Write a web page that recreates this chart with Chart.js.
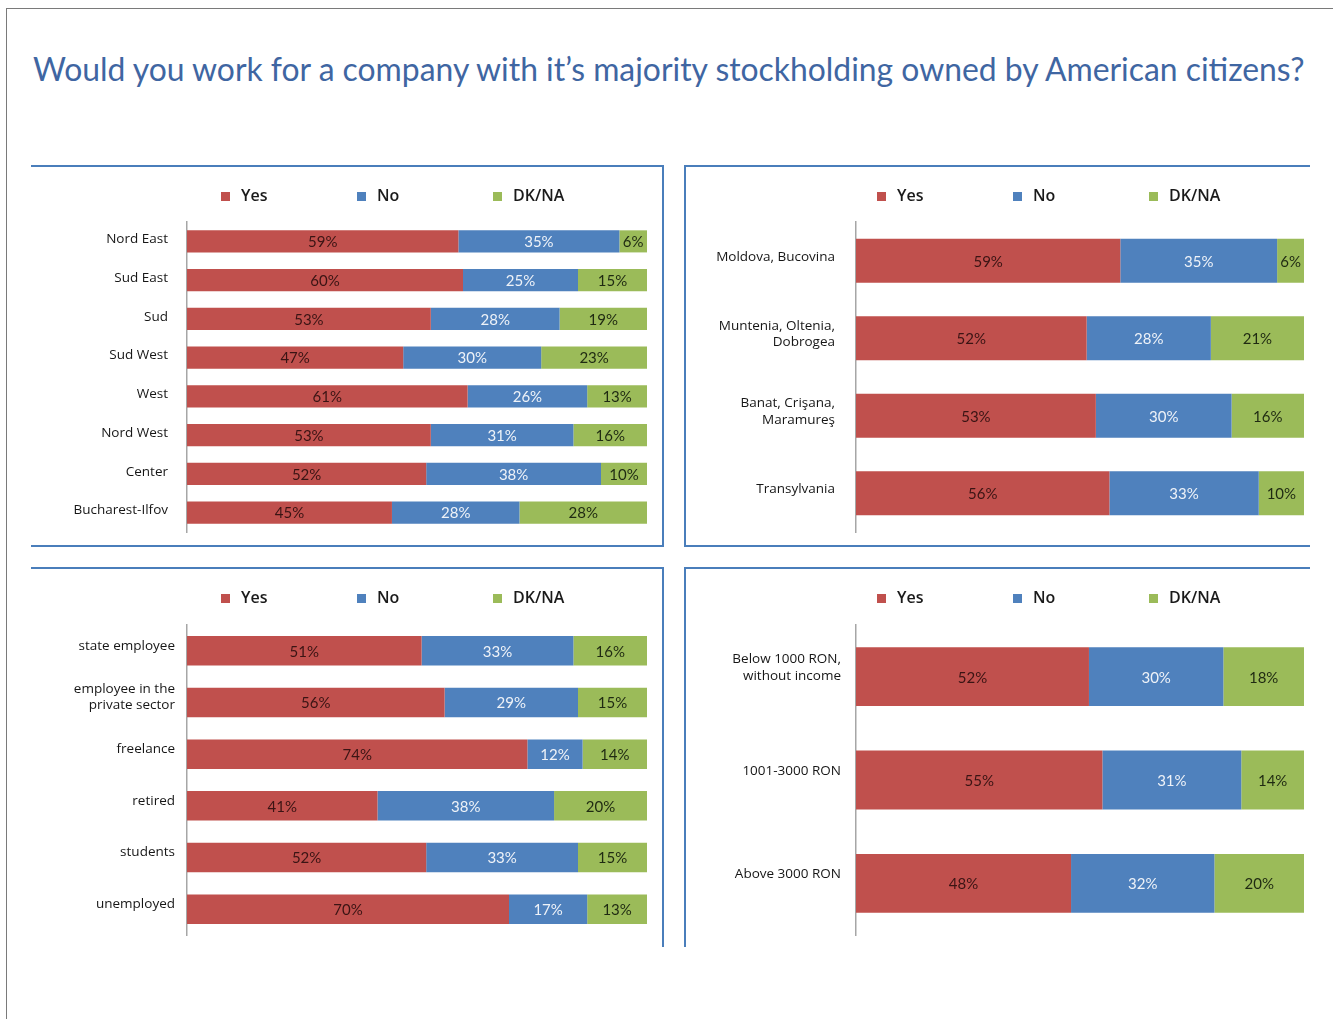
<!DOCTYPE html>
<html><head><meta charset="utf-8">
<script src="https://cdn.jsdelivr.net/npm/chart.js@4.4.1/dist/chart.umd.min.js"></script>
<style>
html,body{margin:0;padding:0;background:#fff;width:1333px;height:1019px;overflow:hidden;position:relative}
#frame{position:absolute;left:6px;top:8px;width:1400px;height:1100px;border-left:1px solid #7a7a7a;border-top:1px solid #7a7a7a}
#title{position:absolute;left:33px;top:55px;white-space:nowrap;color:#3f66a2;font-family:Lato,"Open Sans",sans-serif;font-size:29px;line-height:29px}
.ln{position:absolute;background:#4a7ebb}
canvas{position:absolute}
</style></head>
<body>
<div id="frame"></div>
<div id="title"><span id="tt">Would you work for a company with it’s majority stockholding owned by American citizens?</span></div>
<div class="ln" style="left:31px;top:165px;width:633px;height:2px"></div>
<div class="ln" style="left:662px;top:165px;width:2px;height:382px"></div>
<div class="ln" style="left:31px;top:545px;width:633px;height:2px"></div>
<div class="ln" style="left:684px;top:165px;width:2px;height:382px"></div>
<div class="ln" style="left:684px;top:165px;width:626px;height:2px"></div>
<div class="ln" style="left:684px;top:545px;width:626px;height:2px"></div>
<div class="ln" style="left:31px;top:567px;width:633px;height:2px"></div>
<div class="ln" style="left:662px;top:567px;width:2px;height:380px"></div>
<div class="ln" style="left:684px;top:567px;width:626px;height:2px"></div>
<div class="ln" style="left:684px;top:567px;width:2px;height:380px"></div>
<canvas id="c1" width="630" height="376" style="left:31px;top:168px"></canvas>
<canvas id="c2" width="623" height="376" style="left:687px;top:168px"></canvas>
<canvas id="c3" width="630" height="377" style="left:31px;top:570px"></canvas>
<canvas id="c4" width="623" height="377" style="left:687px;top:570px"></canvas>
<script>
// ---- data ----
const seriesNames = ['Yes', 'No', 'DK/NA'];

const regionCats = ['Nord East', 'Sud East', 'Sud', 'Sud West', 'West', 'Nord West', 'Center', 'Bucharest-Ilfov'];
const regionYes = [59, 60, 53, 47, 61, 53, 52, 45];
const regionNo  = [35, 25, 28, 30, 26, 31, 38, 28];
const regionDk  = [6, 15, 19, 23, 13, 16, 10, 28];

const provinceCats = [['Moldova, Bucovina'], ['Muntenia, Oltenia,', 'Dobrogea'], ['Banat, Crişana,', 'Maramureş'], ['Transylvania']];
const provinceYes = [59, 52, 53, 56];
const provinceNo  = [35, 28, 30, 33];
const provinceDk  = [6, 21, 16, 10];

const jobCats = [['state employee'], ['employee in the', 'private sector'], ['freelance'], ['retired'], ['students'], ['unemployed']];
const jobYes = [51, 56, 74, 41, 52, 70];
const jobNo  = [33, 29, 12, 38, 33, 17];
const jobDk  = [16, 15, 14, 20, 15, 13];

const incomeCats = [['Below 1000 RON,', 'without income'], ['1001-3000 RON'], ['Above 3000 RON']];
const incomeYes = [52, 55, 48];
const incomeNo  = [30, 31, 32];
const incomeDk  = [18, 14, 20];

// ---- styling ----
const COLORS = ['#c0504d', '#4f81bd', '#9bbb59'];
const LABEL_COLORS = ['#3a1414', '#eef2f8', '#1f2a12'];

const valueLabels = {
  id: 'valueLabels',
  afterDatasetsDraw(chart) {
    const ctx = chart.ctx;
    ctx.save();
    ctx.font = '15px Lato, "Open Sans", sans-serif';
    ctx.textAlign = 'center';
    ctx.textBaseline = 'middle';
    chart.data.datasets.forEach((ds, di) => {
      const meta = chart.getDatasetMeta(di);
      meta.data.forEach((el, i) => {
        const p = el.getProps(['x', 'base', 'y'], true);
        ctx.fillStyle = LABEL_COLORS[di];
        ctx.fillText(ds.shown[i] + '%', (p.x + p.base) / 2, p.y + 1);
      });
    });
    ctx.restore();
  }
};

const boxLegend = {
  id: 'boxLegend',
  afterDraw(chart) {
    const ctx = chart.ctx;
    const xs = [190, 326, 462], base = 33;
    ctx.save();
    ctx.font = '600 16px "Open Sans", sans-serif';
    ctx.textBaseline = 'alphabetic';
    ctx.textAlign = 'left';
    chart.data.datasets.forEach((ds, i) => {
      ctx.fillStyle = ds.backgroundColor;
      ctx.fillRect(xs[i], base - 9, 9, 9);
      ctx.fillStyle = '#1a1a1a';
      ctx.fillText(ds.label, xs[i] + 20, base);
    });
    ctx.restore();
  }
};

function makeChart(id, cats, yes, no, dk, cfg) {
  const series = [yes, no, dk];
  const totals = cats.map((c, i) => yes[i] + no[i] + dk[i]);
  const datasets = series.map((vals, k) => ({
    label: seriesNames[k],
    data: vals.map((v, i) => v / totals[i] * 100),
    shown: vals,
    backgroundColor: COLORS[k],
    borderWidth: 0,
    barPercentage: 0.57,
    categoryPercentage: 1
  }));
  return new Chart(document.getElementById(id), {
    type: 'bar',
    data: { labels: cats, datasets },
    plugins: [valueLabels, boxLegend],
    options: {
      indexAxis: 'y',
      responsive: false,
      animation: false,
      devicePixelRatio: 1,
      layout: { padding: { left: 0, right: cfg.right, top: cfg.top, bottom: cfg.bottom } },
      plugins: { legend: { display: false }, tooltip: { enabled: false }, title: { display: false } },
      scales: {
        x: { stacked: true, min: 0, max: 100, display: false },
        y: {
          stacked: true,
          grid: { display: false, drawTicks: false },
          border: { display: true, color: '#a6a6a6', width: 1.5 },
          ticks: {
            color: '#161616',
            font: { family: '"Open Sans", sans-serif', size: 13.5 },
            padding: cfg.pad,
            labelOffset: cfg.off,
            crossAlign: 'near',
            autoSkip: false
          },
          afterFit(s) { s.width = cfg.axisW; s.paddingTop = 0; s.paddingBottom = 0; }
        }
      }
    }
  });
}

function fitTitle() {
  const tt = document.getElementById('tt');
  const w = tt.getBoundingClientRect().width;
  const target = 1272;
  const size = 29 * target / w;
  const t = document.getElementById('title');
  t.style.fontSize = size.toFixed(2) + 'px';
  t.style.lineHeight = size.toFixed(2) + 'px';
  t.style.top = (82 - size * 0.887) + 'px';
}

function build() {
  fitTitle();
  makeChart('c1', regionCats, regionYes, regionNo, regionDk, { right: 14, top: 54, bottom: 12, axisW: 156, pad: 19, off: -2 });
  makeChart('c2', provinceCats, provinceYes, provinceNo, provinceDk, { right: 6, top: 54, bottom: 12, axisW: 169, pad: 21, off: -4 });
  makeChart('c3', jobCats, jobYes, jobNo, jobDk, { right: 14, top: 55, bottom: 12, axisW: 156, pad: 12, off: -5 });
  makeChart('c4', incomeCats, incomeYes, incomeNo, incomeDk, { right: 6, top: 55, bottom: 12, axisW: 169, pad: 15, off: -9 });
}

Promise.all([
  document.fonts.load('16px "Open Sans"'),
  document.fonts.load('600 16px "Open Sans"'),
  document.fonts.load('13px "Open Sans"'),
  document.fonts.load('15px Lato'),
  document.fonts.load('29px Lato')
]).then(build, build);
</script>
</body></html>
